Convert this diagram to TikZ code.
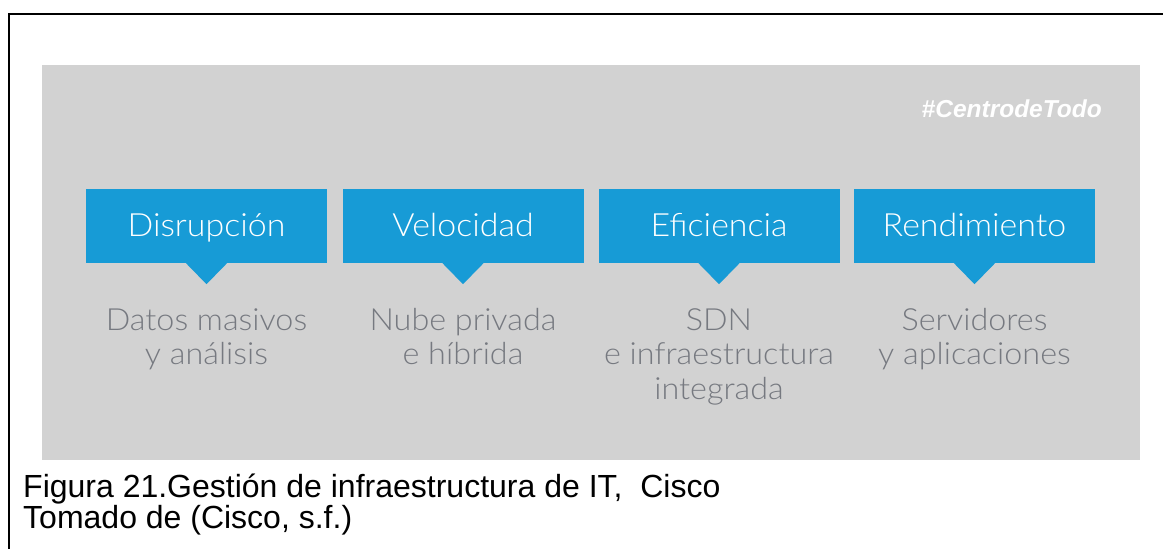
\documentclass[tikz,border=0pt]{standalone}
\usepackage{fontspec}
\setmainfont{Liberation Sans}
\newfontfamily\thinfont{Lato}[UprightFont=* Light, FakeStretch=1.06]
\definecolor{panelgray}{RGB}{210,210,210}
\definecolor{ciscoblue}{RGB}{23,155,214}
\definecolor{subgray}{RGB}{118,121,128}
\newcommand{\firstline}{\rule{0pt}{0.9em}}
\tikzset{
  frameline/.style={line width=2.2pt, black},
  bluebox/.style={fill=ciscoblue, text=white, minimum width=241pt, minimum height=74pt,
    inner sep=0pt, text height=26pt, text depth=6pt,
    font=\thinfont\fontsize{32}{36}\selectfont},
  subtext/.style={text=subgray, align=center, anchor=north, inner sep=0pt,
    font=\thinfont\fontsize{30.5}{34.5}\selectfont},
  hashtag/.style={text=white, inner sep=0pt, font=\bfseries\itshape\fontsize{24.5}{28}\selectfont},
  caption/.style={text=black, inner sep=0pt, anchor=base west, font=\fontsize{32}{34}\selectfont}
}
\begin{document}
\begin{tikzpicture}[x=1pt,y=-1pt]
\useasboundingbox (0,0) rectangle (1163,549);
% page frame, top and left edges
\draw[frameline] (9,549) -- (9,14) -- (1163,14);
% grey panel
\fill[panelgray] (42,65) rectangle (1140,460);
\node[hashtag, anchor=base east] (tag) at (1102,117) {\#CentrodeTodo};
% blue headers with pointers
\node[bluebox] (b1) at (206.5,226) {Disrupción};
\node[bluebox] (b2) at (463,226) {Velocidad};
\node[bluebox] (b3) at (719,226) {Eficiencia};
\node[bluebox] (b4) at (974.5,226) {Rendimiento};
\foreach \b in {b1,b2,b3,b4}{
  \fill[ciscoblue] ([xshift=-21pt,yshift=0.5pt]\b.south) -- ([xshift=21pt,yshift=0.5pt]\b.south)
    -- ([yshift=-21pt]\b.south) -- cycle;
}
% descriptions
\node[subtext] (t1) at (206.5,302.5) {\firstline Datos masivos\\y análisis};
\node[subtext] (t2) at (463,302.5) {\firstline Nube privada\\e híbrida};
\node[subtext] (t3) at (719,302.5) {\firstline SDN\\e infraestructura\\integrada};
\node[subtext] (t4) at (974.5,302.5) {\firstline Servidores\\y aplicaciones};
% caption
\node[caption] (c1) at (23,497) {Figura 21.Gestión de infraestructura de IT,\ \ Cisco};
\node[caption] (c2) at (23,528) {Tomado de (Cisco, s.f.)};
\end{tikzpicture}
\end{document}
